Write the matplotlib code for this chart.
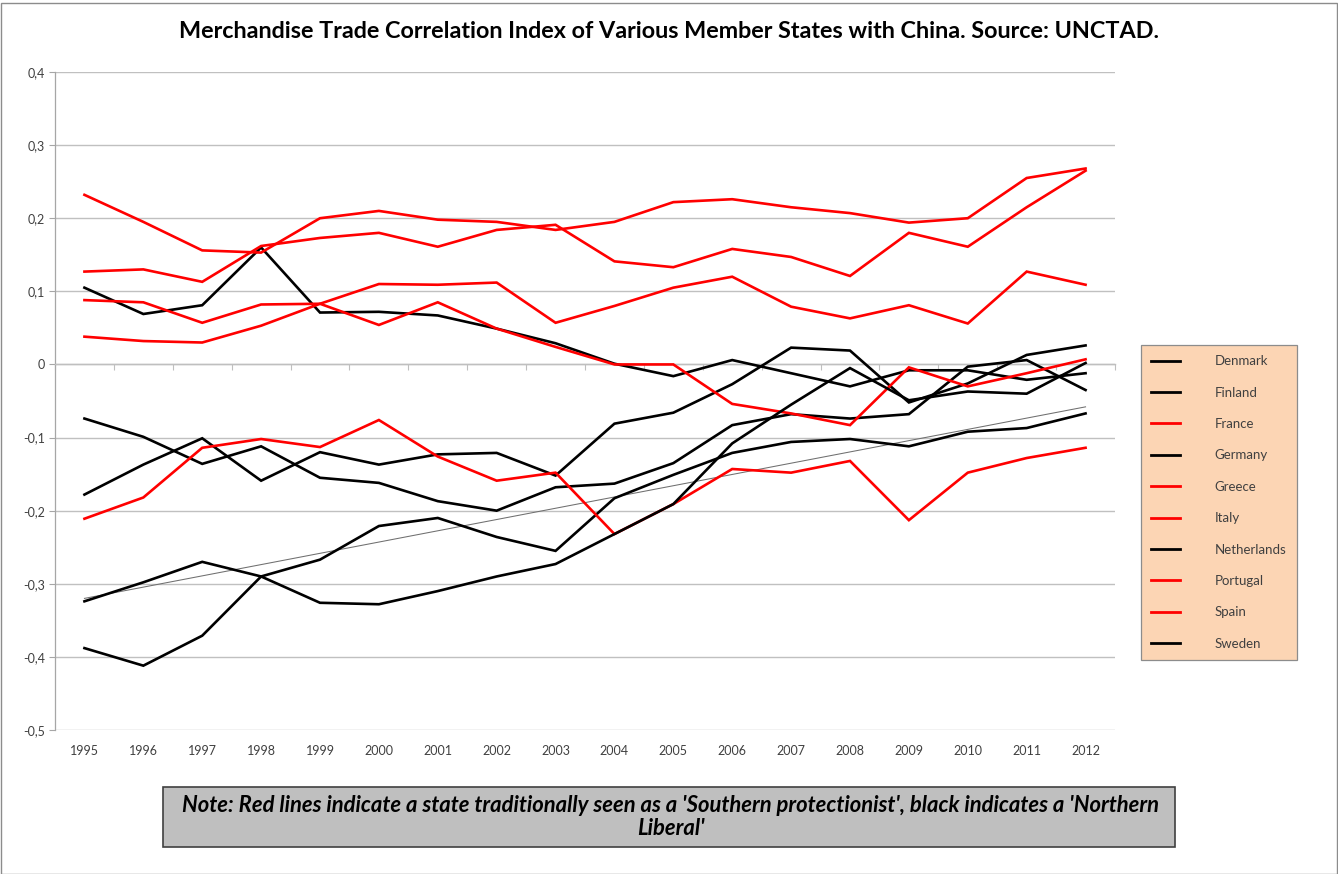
import matplotlib
matplotlib.use('Agg')
import matplotlib.pyplot as plt
from matplotlib.patches import Rectangle
from matplotlib.lines import Line2D
from matplotlib.ticker import FuncFormatter

plt.rcParams['font.family'] = ['Lato', 'DejaVu Sans']

# ---------------- data ----------------
years = list(range(1995, 2013))
year_labels = [str(y) for y in years]

denmark     = [0.105, 0.069, 0.081, 0.160, 0.071, 0.072, 0.067, 0.049, 0.029, 0.001, -0.016, 0.006, -0.012, -0.030, -0.008, -0.008, -0.021, -0.012]
finland     = [-0.178, -0.137, -0.101, -0.159, -0.120, -0.137, -0.123, -0.121, -0.152, -0.081, -0.066, -0.027, 0.023, 0.019, -0.052, -0.026, 0.013, 0.026]
france      = [0.232, 0.195, 0.156, 0.153, 0.200, 0.210, 0.198, 0.195, 0.184, 0.195, 0.222, 0.226, 0.215, 0.207, 0.194, 0.200, 0.255, 0.268]
germany     = [-0.074, -0.099, -0.136, -0.112, -0.155, -0.162, -0.187, -0.200, -0.168, -0.163, -0.135, -0.083, -0.068, -0.074, -0.068, -0.003, 0.006, -0.035]
greece      = [0.127, 0.130, 0.113, 0.162, 0.173, 0.180, 0.161, 0.184, 0.191, 0.141, 0.133, 0.158, 0.147, 0.121, 0.180, 0.161, 0.215, 0.265]
italy       = [0.088, 0.085, 0.057, 0.082, 0.083, 0.110, 0.109, 0.112, 0.057, 0.080, 0.105, 0.120, 0.079, 0.063, 0.081, 0.056, 0.127, 0.109]
netherlands = [-0.388, -0.412, -0.371, -0.290, -0.267, -0.221, -0.210, -0.236, -0.255, -0.183, -0.151, -0.121, -0.106, -0.102, -0.112, -0.092, -0.087, -0.067]
portugal    = [0.038, 0.032, 0.030, 0.053, 0.083, 0.054, 0.085, 0.049, 0.024, 0.000, 0.000, -0.054, -0.067, -0.083, -0.004, -0.030, -0.012, 0.007]
spain       = [-0.211, -0.182, -0.114, -0.102, -0.113, -0.076, -0.126, -0.159, -0.148, -0.232, -0.191, -0.143, -0.148, -0.132, -0.213, -0.148, -0.128, -0.114]
sweden      = [-0.324, -0.298, -0.270, -0.290, -0.326, -0.328, -0.310, -0.290, -0.273, -0.232, -0.191, -0.108, -0.055, -0.005, -0.049, -0.037, -0.040, 0.002]

countries = ['Denmark', 'Finland', 'France', 'Germany', 'Greece',
             'Italy', 'Netherlands', 'Portugal', 'Spain', 'Sweden']
series = [denmark, finland, france, germany, greece,
          italy, netherlands, portugal, spain, sweden]
groups = ['north', 'north', 'south', 'north', 'south',
          'south', 'north', 'south', 'south', 'north']

trend_years = [1995, 2012]
trend_values = [-0.320, -0.058]

yticks = [-0.5, -0.4, -0.3, -0.2, -0.1, 0.0, 0.1, 0.2, 0.3, 0.4]

title = 'Merchandise Trade Correlation Index of Various Member States with China. Source: UNCTAD.'
note = ("Note: Red lines indicate a state traditionally seen as a 'Southern protectionist', black indicates a 'Northern\n"
        "Liberal'")

# ---------------- figure ----------------
W, H = 1338, 874
fig = plt.figure(figsize=(W / 100, H / 100), dpi=100)
fig.patch.set_facecolor('white')

ax = fig.add_axes([55 / W, 1 - 730 / H, (1115 - 55) / W, (730 - 72) / H])
ax.set_xlim(1994.5, 2012.5)
ax.set_ylim(-0.5, 0.4)

color_map = {'north': '#000000', 'south': '#ff0000'}
handles = []
for name, vals, g in zip(countries, series, groups):
    ax.plot(years, vals, color=color_map[g], lw=1.9, solid_joinstyle='miter', zorder=3)
    handles.append(Line2D([], [], color=color_map[g], lw=2.0, label=name))

ax.plot(trend_years, trend_values, color='#6f6f6f', lw=0.75, zorder=2.5)

# y axis
ax.set_yticks(yticks)
ax.yaxis.set_major_formatter(FuncFormatter(
    lambda v, p: '0' if abs(v) < 1e-9 else ('%.1f' % v).replace('.', ',')))
ax.tick_params(axis='y', length=4, width=0.8, color='#a6a6a6', pad=3,
               labelsize=9, labelcolor='#404040')
ax.yaxis.grid(True, color='#c0c0c0', lw=1.0)
ax.set_axisbelow(True)

for s in ['top', 'right']:
    ax.spines[s].set_visible(False)
ax.spines['left'].set_color('#a6a6a6')
ax.spines['left'].set_linewidth(0.9)
ax.spines['bottom'].set_position(('data', 0))
ax.spines['bottom'].set_color('#bfbfbf')
ax.spines['bottom'].set_linewidth(1.0)

# category boundary tick marks on the zero line
ax.set_xticks([y - 0.5 for y in years] + [years[-1] + 0.5])
ax.set_xticklabels([])
ax.tick_params(axis='x', length=4, width=0.8, color='#bfbfbf', direction='out')

# year labels at the bottom
sec = ax.secondary_xaxis(0)
sec.set_xticks(years)
sec.set_xticklabels(year_labels)
sec.tick_params(length=0, pad=11, labelsize=9, labelcolor='#404040')
sec.spines['bottom'].set_visible(False)

# legend
leg = ax.legend(handles=handles, loc='upper left',
                bbox_to_anchor=(1141 / W, 1 - 345 / H), bbox_transform=fig.transFigure,
                frameon=True, fancybox=False, framealpha=1,
                facecolor='#fcd5b4', edgecolor='#8c8c8c',
                fontsize=9.5, labelspacing=1.47, handlelength=2.2,
                handletextpad=2.6, borderpad=0.78, borderaxespad=0)
leg.get_frame().set_linewidth(0.9)
for t in leg.get_texts():
    t.set_color('#404040')

# title
fig.text(0.5, 1 - 32 / H, title, ha='center', va='center',
         fontsize=16.8, fontweight='bold', color='#000000')

# note box
fig.patches.append(Rectangle((163 / W, 1 - 847 / H), (1175 - 163) / W, 60 / H,
                             transform=fig.transFigure, facecolor='#bfbfbf',
                             edgecolor='#404040', lw=1.2, zorder=1))
fig.text(671 / W, 1 - 817 / H, note, ha='center', va='center', multialignment='center',
         fontsize=15.8, fontweight='bold', style='italic', color='#000000',
         linespacing=1.12, zorder=2)

# outer border
fig.patches.append(Rectangle((0.5 / W, 0.5 / H), (W - 2) / W, (H - 3) / H,
                             transform=fig.transFigure, fill=False,
                             edgecolor='#8c8c8c', lw=1.0))

fig.savefig('out.png', dpi=100)
